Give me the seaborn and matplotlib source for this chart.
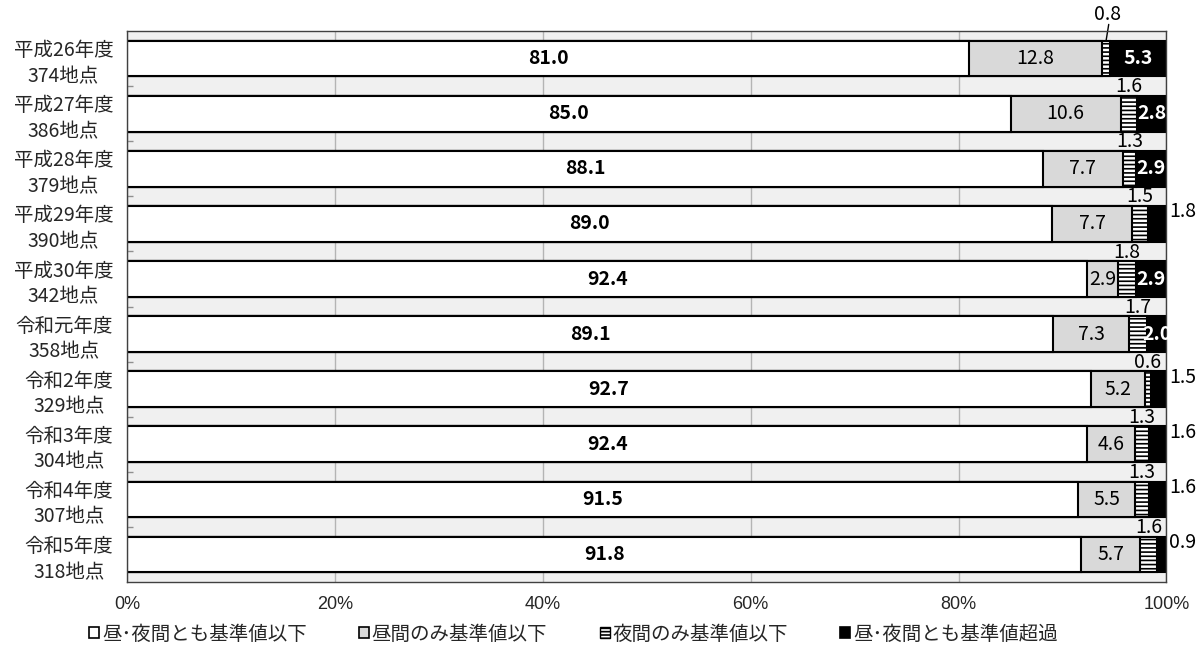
import matplotlib

matplotlib.use("Agg")
import matplotlib.pyplot as plt
import numpy as np
import pandas as pd
import seaborn as sns
from matplotlib.patches import Patch

# ---------------------------------------------------------------------------
# Data (percent of sites)
# ---------------------------------------------------------------------------

years = ["平成26年度", "平成27年度", "平成28年度", "平成29年度", "平成30年度",
         "令和元年度", "令和2年度", "令和3年度", "令和4年度", "令和5年度"]
sites = ["374地点", "386地点", "379地点", "390地点", "342地点",
         "358地点", "329地点", "304地点", "307地点", "318地点"]
both_ok = [81.0, 85.0, 88.1, 89.0, 92.4, 89.1, 92.7, 92.4, 91.5, 91.8]
day_ok = [12.8, 10.6, 7.7, 7.7, 2.9, 7.3, 5.2, 4.6, 5.5, 5.7]
night_ok = [0.8, 1.6, 1.3, 1.5, 1.8, 1.7, 0.6, 1.3, 1.3, 1.6]
both_over = [5.3, 2.8, 2.9, 1.8, 2.9, 2.0, 1.5, 1.6, 1.6, 0.9]
series_names = ["昼･夜間とも基準値以下", "昼間のみ基準値以下",
                "夜間のみ基準値以下", "昼･夜間とも基準値超過"]

sns.set_theme(style="white")
plt.rcParams["font.family"] = ["Noto Sans CJK JP", "DejaVu Sans"]
plt.rcParams["hatch.linewidth"] = 1.2

df = pd.DataFrame({
    "label": [f"{y}\n{s}" for y, s in zip(years, sites)],
    "s1": both_ok, "s2": day_ok, "s3": night_ok, "s4": both_over,
})
df["c1"] = df["s1"]
df["c2"] = df["c1"] + df["s2"]
df["c3"] = df["c2"] + df["s3"]
df["c4"] = df["c3"] + df["s4"]

fig, ax = plt.subplots(figsize=(12, 6.6), dpi=100)
fig.subplots_adjust(left=0.106, right=0.972, bottom=0.118, top=0.953)
ax.set_facecolor("#f0f0f0")

bar_kw = dict(orient="y", width=0.65, edgecolor="black", linewidth=1.5, errorbar=None, ax=ax)
# stacked by overdrawing cumulative totals
sns.barplot(data=df, x="c4", y="label", color="black", **bar_kw)
sns.barplot(data=df, x="c3", y="label", color="white", hatch="----", **bar_kw)
sns.barplot(data=df, x="c2", y="label", color="#d9d9d9", **bar_kw)
sns.barplot(data=df, x="c1", y="label", color="white", **bar_kw)
for p in ax.patches:
    p.set_facecolor(p.get_facecolor()[:3] + (1.0,))

ax.set_xlim(0, 100)
ax.set_ylim(len(df) - 0.5, -0.5)
ax.set_xlabel("")
ax.set_ylabel("")
ax.xaxis.grid(True, color="#b4b4b4", lw=1)
ax.set_axisbelow(True)
for sp in ax.spines.values():
    sp.set_color("#404040")
    sp.set_linewidth(1)

ax.set_xticks(range(0, 101, 20))
ax.set_xticklabels([f"{v}%" for v in range(0, 101, 20)],
                   family=["Liberation Sans Narrow", "Liberation Sans", "DejaVu Sans"], fontsize=13)
ax.tick_params(axis="x", length=0, pad=10)
ax.tick_params(axis="y", length=0, pad=10, labelsize=14)
for t in ax.get_yticklabels():
    t.set_multialignment("center")
    t.set_linespacing(1.3)
ax.set_yticks(np.arange(len(df) - 1) + 0.5, minor=True)
ax.tick_params(axis="y", which="minor", length=4, direction="in", color="#909090", left=True)

# ---------------------------------------------------------------------------
# Value labels
# ---------------------------------------------------------------------------

for i, r in df.iterrows():
    ax.text(r["c1"] / 2, i, f"{r['s1']:.1f}", ha="center", va="center",
            fontsize=14, fontweight="bold", color="black")
    ax.text(r["c1"] + r["s2"] / 2, i, f"{r['s2']:.1f}", ha="center", va="center",
            fontsize=14, color="black")
    mid3 = r["c2"] + r["s3"] / 2
    if i == 0:
        ax.text(mid3 + 0.1, -0.8, f"{r['s3']:.1f}", ha="center", va="center",
                fontsize=14, color="black", clip_on=False)
        ax.plot([mid3, mid3 + 0.25], [-0.33, -0.62], color="black", lw=1, clip_on=False)
    else:
        ax.text(mid3, i - 0.49, f"{r['s3']:.1f}", ha="center", va="center",
                fontsize=14, color="black")
    if r["s4"] >= 2.0:
        ax.text(r["c3"] + r["s4"] / 2, i, f"{r['s4']:.1f}", ha="center", va="center",
                fontsize=14, fontweight="bold", color="white")
    else:
        ax.annotate(f"{r['s4']:.1f}", xy=(100, i - 0.22), xytext=(2, 0),
                    textcoords="offset points", ha="left", va="center",
                    fontsize=14, color="black", annotation_clip=False)

# ---------------------------------------------------------------------------
# Legend
# ---------------------------------------------------------------------------

handles = [
    Patch(facecolor="white", edgecolor="black", lw=1.2),
    Patch(facecolor="#d9d9d9", edgecolor="black", lw=1.2),
    Patch(facecolor="white", edgecolor="black", lw=1.0, hatch="-----"),
    Patch(facecolor="black", edgecolor="black", lw=1.2),
]
fig.legend(handles, series_names, loc="center", bbox_to_anchor=(0.478, 0.039),
           ncol=4, frameon=False, fontsize=14, handlelength=0.5, handleheight=0.5,
           handletextpad=0.15, columnspacing=2.7)

fig.savefig("out.png", dpi=100)
plt.close(fig)
